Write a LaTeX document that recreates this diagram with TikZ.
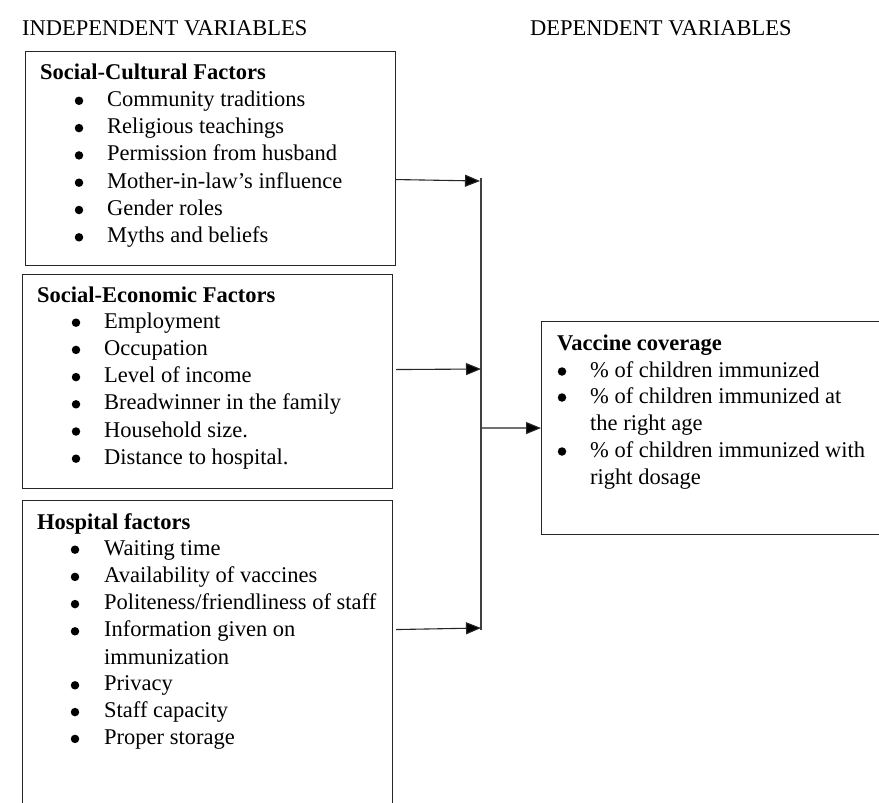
\documentclass[tikz,border=0pt]{standalone}
\usepackage{fontspec}
\setmainfont{Liberation Serif}
\usetikzlibrary{arrows.meta}
\begin{document}
\begin{tikzpicture}[x=1pt,y=-1pt,
  font=\fontsize{22.5}{26}\selectfont,
  box/.style={draw=black!85, line width=1.1pt, anchor=north west, inner sep=0pt},
  txt/.style={anchor=base west, inner sep=0pt, font=\fontsize{22.5}{26}\selectfont},
  ttl/.style={anchor=base west, inner sep=0pt, font=\fontsize{22.5}{26}\selectfont\bfseries},
  bul/.style={circle, fill=black, inner sep=0pt, minimum size=8.5pt},
  conn/.style={draw=black!85, line width=1.1pt, -{Triangle[length=15pt,width=12pt,fill=black]}},
  vline/.style={draw=black!75, line width=1.3pt}]
\clip (0,0) rectangle (879,803);
\fill[white] (0,0) rectangle (879,803);

% headers
\node[txt] (hind) at (22,35) {INDEPENDENT VARIABLES};
\node[txt] (hdep) at (530,35) {DEPENDENT VARIABLES};

% boxes
\node[box, minimum width=370pt, minimum height=214pt] (b1) at (25,51) {};
\node[box, minimum width=370pt, minimum height=214pt] (b2) at (22,274) {};
\node[box, minimum width=370pt, minimum height=330pt] (b3) at (22,500) {};
\node[box, minimum width=345pt, minimum height=213pt] (b4) at (541,321) {};

% box 1
\node[ttl] (t1) at (40,79) {Social-Cultural Factors};
\foreach \s [count=\i] in {Community traditions,Religious teachings,Permission from husband,Mother-in-law’s influence,Gender roles,Myths and beliefs}{
  \node[bul] (d1\i) at (79,79+27.3*\i-5.5) {};
  \node[txt] (i1\i) at (107,79+27.3*\i) {\s};
}

% box 2
\node[ttl] (t2) at (37,302) {Social-Economic Factors};
\foreach \s [count=\i] in {Employment,Occupation,Level of income,Breadwinner in the family,Household size.,Distance to hospital.}{
  \node[bul] (d2\i) at (76,301+27.2*\i-5.5) {};
  \node[txt] (i2\i) at (104,301+27.2*\i) {\s};
}

% box 3
\node[ttl] (t3) at (37,529) {Hospital factors};
\foreach \s [count=\i] in {Waiting time,Availability of vaccines,Politeness/friendliness of staff,Information given on}{
  \node[bul] (d3\i) at (75,528+27.2*\i-5.5) {};
  \node[txt] (i3\i) at (104,528+27.2*\i) {\s};
}
\node[txt] (i3w) at (104,664) {immunization};
\foreach \s [count=\i] in {Privacy,Staff capacity,Proper storage}{
  \node[bul] (d3x\i) at (75,664+26.8*\i-5.5) {};
  \node[txt] (i3x\i) at (104,664+26.8*\i) {\s};
}

% vaccine box
\node[ttl] (t4) at (557,350) {Vaccine coverage};
\node[bul] (d41) at (562,377-5.5) {};
\node[txt] (i41) at (590,377) {\% of children immunized};
\node[bul] (d42) at (562,403-5.5) {};
\node[txt] (i42) at (590,403) {\% of children immunized at};
\node[txt] (i42w) at (590,430) {the right age};
\node[bul] (d43) at (562,457-5.5) {};
\node[txt] (i43) at (590,457) {\% of children immunized with};
\node[txt] (i43w) at (590,484) {right dosage};

% connectors
\coordinate (vt) at (481,178);
\coordinate (vb) at (481,630);
\draw[vline] (vt) -- (vb);
\coordinate (v1) at (480,181);
\coordinate (v2) at (481,369);
\coordinate (v3) at (482,428);
\coordinate (v4) at (481,628);
\draw[conn] ([yshift=-21pt]b1.east) -- (v1);
\draw[conn] ([yshift=12pt,xshift=3pt]b2.east) -- (v2);
\draw[conn] (v3) -- (b4.west);
\draw[conn] ([yshift=36pt,xshift=3pt]b3.east) -- (v4);
\end{tikzpicture}
\end{document}
